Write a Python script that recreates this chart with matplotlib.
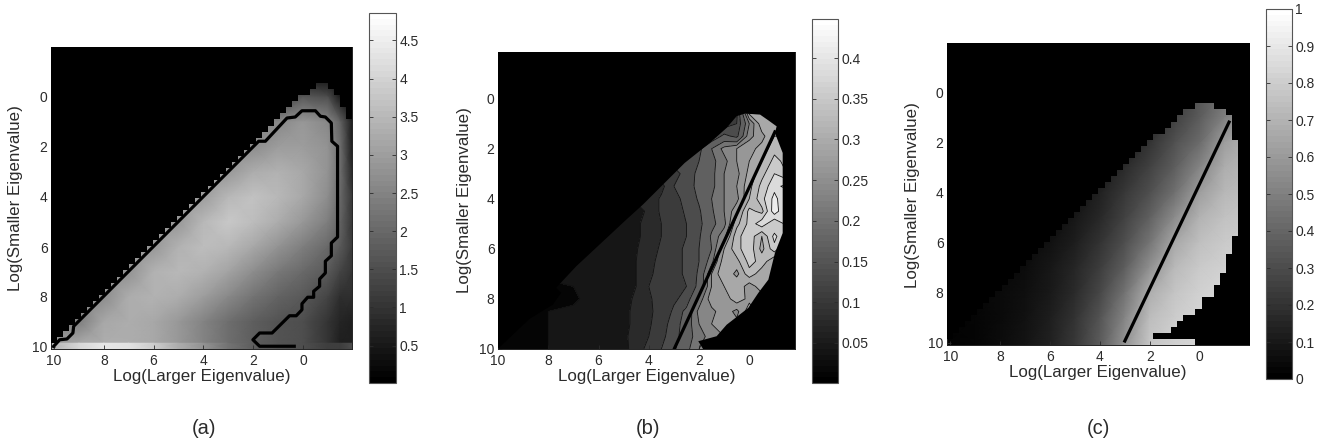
#!/usr/bin/env python
"""Three grey eigenvalue maps, (a) (b) (c), each with its own colour bar."""
import numpy as np
import matplotlib

matplotlib.use("Agg")
import matplotlib.pyplot as plt
from matplotlib.cm import ScalarMappable
from matplotlib.colors import Normalize
from matplotlib.patches import PathPatch
from matplotlib.path import Path

W, H = 1329, 443
GRID = 50
TEXT = "#2b2b2b"
TICKS = [10, 8, 6, 4, 2, 0]
XLABEL = "Log(Larger Eigenvalue)"
YLABEL = "Log(Smaller Eigenvalue)"

# --- panel (a): values read at these log positions
a_xs = [10.2, 9, 8, 7, 6, 5, 4, 3, 2, 1, 0, -1, -1.5, -2]
a_ys = [-2, -1, 0, 1, 2, 3, 4, 5, 6, 7, 8, 9, 9.85]
a_values = [
    [0, 0, 0, 0, 0, 0, 0, 0, 0, 0, 0, 0, 0, 0],
    [0, 0, 0, 0, 0, 0, 0, 0, 0, 0, 0, 0, 0, 0],
    [1.2, 1.2, 1.2, 1.2, 1.2, 1.2, 1.2, 1.2, 1.2, 1.2, 1.7, 1.5, 0.5, 0],
    [2.4, 2.4, 2.4, 2.4, 2.4, 2.4, 2.4, 2.4, 2.4, 2.6, 2.9, 2.6, 1.9, 0.5],
    [2.7, 2.7, 2.7, 2.7, 2.7, 2.7, 2.7, 2.7, 2.7, 3.0, 3.0, 2.8, 2.1, 0.5],
    [2.9, 2.9, 2.9, 2.9, 2.9, 2.9, 2.9, 2.9, 3.3, 3.4, 3.2, 2.8, 2.1, 0.7],
    [3.0, 3.0, 3.0, 3.0, 3.0, 3.0, 3.0, 3.5, 3.7, 3.5, 3.2, 2.7, 2.0, 1.0],
    [2.9, 2.9, 2.9, 2.9, 2.9, 2.9, 3.5, 3.8, 3.6, 3.3, 2.9, 2.4, 1.9, 1.0],
    [2.9, 2.9, 2.9, 2.9, 2.9, 3.4, 3.6, 3.5, 3.2, 2.8, 2.4, 2.0, 1.7, 1.1],
    [2.8, 2.8, 2.8, 2.8, 3.4, 3.5, 3.4, 3.1, 2.7, 2.3, 2.0, 1.7, 1.3, 1.0],
    [2.7, 2.7, 2.7, 3.3, 3.4, 3.3, 3.0, 2.6, 2.2, 1.9, 1.7, 1.3, 0.9, 0.9],
    [2.4, 2.4, 3.2, 3.3, 3.2, 2.9, 2.5, 2.1, 1.8, 1.6, 1.5, 1.0, 0.7, 0.6],
    [2.8, 3.2, 3.3, 3.3, 3.2, 2.9, 2.5, 2.1, 1.8, 1.6, 1.5, 1.0, 0.6, 0.6],
]
a_bottom = [3.4, 4.1, 4.4, 4.3, 3.9, 3.3, 2.8, 2.2, 1.8, 1.6, 1.5, 1.2, 1.2, 1.5]
# first and end cell of the visible stretch, rows 6 to 49 of the 50 x 50 grid
a_left = [44, 43, 41, 40, 39, 38, 37, 36, 35, 34, 33, 32, 31, 30, 29, 28, 27, 26, 25, 24, 23, 22,
          21, 20, 19, 18, 17, 16, 15, 14, 13, 12, 11, 10, 9, 8, 7, 6, 5, 4, 3, 2, 1, 0]
a_right = [46, 47, 48, 48, 49, 49] + [50] * 38
a_line_x = [10.01, 9.77, 9.48, 9.24, 9.21, 1.78, 1.51, 0.64, 0.31, 0.04, -0.50, -0.70, -0.90, -1.14,
            -1.16, -1.39, -1.39, -1.14, -1.14, -0.90, -0.90, -0.67, -0.67, -0.43, -0.43, -0.19,
            0.04, 0.04, 0.27, 0.54, 1.24, 1.74, 2.01, 1.74, 0.35]
a_line_y = [9.97, 9.71, 9.68, 9.44, 9.17, 1.77, 1.77, 0.84, 0.80, 0.55, 0.55, 0.77, 0.80, 1.04,
            1.77, 1.97, 5.60, 5.84, 6.35, 6.57, 7.04, 7.28, 7.57, 7.77, 8.01, 8.01,
            8.27, 8.51, 8.75, 8.75, 9.44, 9.44, 9.71, 9.97, 9.97]
a_ticks = [0.5, 1, 1.5, 2, 2.5, 3, 3.5, 4, 4.5]
a_ticklabels = ["0.5", "1", "1.5", "2", "2.5", "3", "3.5", "4", "4.5"]

# --- panel (b): values x 100, cells left of the edge repeat the edge value
b_xs = [10, 9, 8, 7, 6.5, 6, 5.5, 5, 4.5, 4, 3.5, 3, 2.5, 2, 1.5, 1, 0.5, 0, -0.5, -1, -1.5]
b_ys = [0.5, 1, 1.5, 2, 2.5, 3, 3.5, 4, 4.5, 5, 5.5, 6, 6.5, 7, 7.5, 8, 8.5, 9, 9.5, 10]
b_values = [
    [10, 10, 10, 10, 10, 10, 10, 10, 10, 10, 10, 10, 10, 10, 10, 10, 11, 30, 30, 28, 28],
    [10, 10, 10, 10, 10, 10, 10, 10, 10, 10, 10, 10, 10, 10, 10, 10, 12, 22, 30, 30, 30],
    [12, 12, 12, 12, 12, 12, 12, 12, 12, 12, 12, 12, 12, 12, 12, 16, 14, 24, 27, 31, 31],
    [14, 14, 14, 14, 14, 14, 14, 14, 14, 14, 14, 14, 14, 14, 19, 23, 25, 27, 29, 33, 33],
    [13, 13, 13, 13, 13, 13, 13, 13, 13, 13, 13, 13, 13, 15, 18, 21, 25, 28, 31, 35, 33],
    [11, 11, 11, 11, 11, 11, 11, 11, 11, 11, 11, 11, 13, 16, 18, 22, 24, 29, 33, 37, 34],
    [8, 8, 8, 8, 8, 8, 8, 8, 8, 8, 8, 12, 13.5, 16, 18, 22, 25, 30, 35, 39, 41],
    [7, 7, 7, 7, 7, 7, 7, 7, 7, 7, 9.5, 11.5, 12.5, 15.5, 19, 22, 24, 31, 36, 41, 37],
    [4, 4, 4, 4, 4, 4, 4, 4, 4, 7, 9.5, 10.5, 12.5, 14.5, 18.5, 22, 27, 35, 33, 42, 36],
    [4, 4, 4, 4, 4, 4, 4, 4, 5.5, 7, 9, 10.5, 12, 14, 18, 21, 30, 35, 39, 34, 38],
    [3, 3, 3, 3, 3, 3, 3, 4, 5.5, 7, 9, 10.5, 12, 14.5, 19.5, 24, 33, 36, 31, 38, 33],
    [3, 3, 3, 3, 3, 3, 3, 4, 5.8, 7.5, 9.5, 11, 12.5, 15, 19, 28, 33, 36, 30, 36, 29],
    [3, 3, 3, 3, 3, 3, 3, 4, 6, 8, 10, 11, 12.5, 15, 21, 30, 30, 35, 33, 28, 32],
    [3, 3, 3, 3, 3, 3, 3, 4, 6, 8.5, 10, 11, 12.5, 15.5, 25, 31, 27, 33, 29, 31, 26],
    [1, 1, 1, 2, 3, 3, 3, 4.5, 6, 9, 10, 11.5, 12, 16, 25, 28, 31, 26, 30, 26, 26],
    [1, 1, 2, 1, 3, 3, 3, 5, 6.5, 8.5, 10.5, 11.5, 13, 20, 27, 26, 30, 27, 26, 26, 26],
    [1, 1, 2, 3, 3, 3, 3, 5.5, 6.5, 8.5, 10, 12.5, 16, 23, 24, 27, 24, 30, 26, 26, 26],
    [1, 1, 2, 3, 3, 3, 3, 5.5, 6.5, 8.5, 11, 13, 17, 22, 25, 27, 26, 26, 26, 26, 26],
    [1, 2, 2, 3, 3, 3, 3, 5.5, 7, 9, 11.5, 13, 18, 20, 24, 25, 25, 25, 25, 25, 25],
    [1, 2, 2, 3, 3, 3, 3, 5, 7.5, 10, 12, 14.5, 18, 22, 24, 24, 24, 24, 24, 24, 24],
]
b_levels = [0, 2, 6, 9, 12, 15, 19, 22, 25, 28, 31, 34, 37, 40, 43]
b_edge_x = [0.17, -0.43, -0.76, -1.09, -1.02, -1.33, -1.33, -1.02, -0.76, -0.36, 0.04, 0.9, 1.3,
            2.03, 1.84, 10.01, 8.75, 7.82, 7.49, 7.69, 6.89, 4.89, 4.23, 3.3, 2.57, 1.57, 0.9, 0.5]
b_edge_y = [0.6, 0.64, 0.87, 1.11, 1.37, 2.17, 5.37, 6.17, 7.23, 7.76, 8.36, 9.03, 9.49,
            9.69, 10, 10, 8.8, 8.23, 7.76, 7.56, 6.7, 4.83, 4.23, 3.3, 2.57, 1.77, 1.17, 0.7]
b_line_x = [2.97, -1.02]
b_line_y = [9.96, 1.33]
b_ticks = [0.05, 0.1, 0.15, 0.2, 0.25, 0.3, 0.35, 0.4]
b_ticklabels = ["0.05", "0.1", "0.15", "0.2", "0.25", "0.3", "0.35", "0.4"]

# --- panel (c)
c_xs = [10.2, 9, 8, 7, 6, 5, 4, 3, 2, 1, 0, -1, -2]
c_ys = [0, 1, 2, 3, 4, 5, 6, 7, 8, 9, 10.1]
c_values = [
    [.10, .10, .10, .10, .10, .10, .10, .10, .10, .20, .33, .42, .50],
    [.12, .12, .12, .12, .12, .12, .12, .12, .15, .25, .36, .50, .60],
    [.08, .08, .08, .08, .08, .08, .08, .10, .20, .32, .42, .62, .70],
    [.06, .06, .06, .06, .06, .06, .10, .17, .26, .37, .52, .68, .72],
    [.05, .05, .05, .05, .05, .07, .13, .22, .31, .44, .62, .72, .74],
    [.04, .04, .04, .04, .05, .09, .16, .26, .38, .55, .70, .76, .78],
    [.03, .03, .03, .04, .07, .12, .20, .31, .46, .66, .75, .79, .80],
    [.02, .02, .03, .05, .09, .15, .24, .37, .57, .73, .79, .82, .83],
    [.01, .02, .04, .06, .10, .17, .28, .45, .68, .77, .82, .84, .85],
    [.01, .02, .04, .07, .12, .20, .33, .52, .74, .80, .83, .85, .86],
    [.01, .02, .05, .08, .13, .22, .36, .58, .78, .82, .84, .86, .86],
]
# first and end cell of the visible stretch, rows 10 to 49 of the 50 x 50 grid
c_left = [41, 39, 38, 37, 36, 34, 33, 32, 31, 30, 29, 28, 27, 26, 25, 24, 23, 22, 21, 20,
          19, 18, 17, 16, 15, 14, 13, 12, 11, 10, 9, 8, 7, 6, 5, 4, 3, 2, 1, 0]
c_right = [44, 46, 47, 47, 47, 47, 48, 48, 48, 48, 48, 48, 48, 48, 48, 48, 48, 48, 48, 48, 48, 48,
           47, 47, 47, 46, 46, 46, 45, 45, 44, 44, 42, 42, 41, 39, 38, 37, 34, 41]
c_line_x = [3.0, -1.18]
c_line_y = [9.93, 1.19]
c_ticks = [0, 0.1, 0.2, 0.3, 0.4, 0.5, 0.6, 0.7, 0.8, 0.9, 1]
c_ticklabels = ["0", "0.1", "0.2", "0.3", "0.4", "0.5", "0.6", "0.7", "0.8", "0.9", "1"]

plt.rcParams["font.family"] = ["Liberation Sans", "DejaVu Sans"]
cmap = plt.get_cmap("gray", 64)
smooth = plt.get_cmap("gray")
fig = plt.figure(figsize=(W / 100, H / 100), dpi=100, facecolor="white")


def box(left, top, right, bottom):
    return fig.add_axes([left / W, 1 - bottom / H, (right - left) / W, (bottom - top) / H])


def px(x, y):
    return x / W, 1 - y / H


def heat_axes(rect, xlim, ylim, xlab, ylab, letter):
    ax = box(*rect)
    ax.set_facecolor("black")
    ax.set_xlim(*xlim)
    ax.set_ylim(*ylim)
    ax.set_xticks(TICKS)
    ax.set_yticks(TICKS)
    ax.tick_params(direction="in", length=3, width=0.6, labelsize=10, colors=TEXT, pad=3.5)
    ax.tick_params(axis="y", pad=2.5)
    for s in ax.spines.values():
        s.set_linewidth(0.7)
        s.set_color("#222222")
    ax.set_xlabel(XLABEL, fontsize=12.2, color=TEXT, ha="center", va="center")
    ax.xaxis.set_label_coords(*px(*xlab), transform=fig.transFigure)
    ax.set_ylabel(YLABEL, fontsize=12.2, color=TEXT, ha="center", va="center")
    ax.yaxis.set_label_coords(*px(*ylab), transform=fig.transFigure)
    fig.text(*px(letter, 428), f"({'abc'[len(fig.axes) // 2]})", fontsize=14.5, color=TEXT,
             ha="center", va="center")
    return ax


def colour_bar(rect, vmin, vmax, ticks, labels):
    cax = box(*rect)
    bar = fig.colorbar(ScalarMappable(Normalize(vmin, vmax), cmap), cax=cax)
    bar.set_ticks(ticks, labels=labels)
    bar.minorticks_off()
    cax.tick_params(direction="in", length=3, width=0.6, left=True, right=True, labelsize=10,
                    colors=TEXT, pad=2.5)
    bar.outline.set_linewidth(0.8)
    bar.outline.set_edgecolor("#555555")


def cell_mask(ax, xlim, ylim, left, right):
    rows = np.ones((GRID, GRID, 4))
    rows[..., :3] = 0
    first = GRID - len(left)
    for i, (l, r) in enumerate(zip(left, right)):
        rows[first + i, l:r, 3] = 0
    ax.imshow(rows, extent=[xlim[0], xlim[1], ylim[0], ylim[1]], origin="upper", aspect="auto",
              interpolation="nearest", zorder=3)
    ax.set_xlim(*xlim)
    ax.set_ylim(*ylim)


# (a)
lim_x, lim_y = (10.12, -1.97), (10.08, -2.0)
ax = heat_axes((51, 47, 352, 349), lim_x, lim_y, (202, 376), (16, 198), 204)
norm_a = Normalize(0.01, 4.86)
ax.pcolormesh(a_xs, a_ys, np.array(a_values), shading="gouraud", cmap=smooth, norm=norm_a)
ax.pcolormesh(a_xs, [9.85, 10.1], np.array([a_bottom, a_bottom]), shading="gouraud", cmap=smooth,
              norm=norm_a)
cell_mask(ax, lim_x, lim_y, a_left, a_right)
ax.plot(a_line_x, a_line_y, color="black", lw=2.3, zorder=4, solid_joinstyle="round")
colour_bar((369, 13, 396, 383), 0.01, 4.86, a_ticks, a_ticklabels)

# (b)
lim_x, lim_y = (10.0, -1.82), (10.0, -1.86)
ax = heat_axes((498, 52, 795, 349), lim_x, lim_y, (647, 376), (464, 200), 648)
norm_b = Normalize(0.0008, 0.448)
b_grid = np.array(b_values) / 100
b_lev = np.array(b_levels) / 100
ax.contourf(b_xs, b_ys, b_grid, levels=b_lev, cmap=smooth, norm=norm_b, extend="max", zorder=1)
ax.contour(b_xs, b_ys, b_grid, levels=b_lev[1:], colors="#111111", linewidths=0.6, zorder=2)
outer = [(lim_x[0], lim_y[0]), (lim_x[1], lim_y[0]), (lim_x[1], lim_y[1]), (lim_x[0], lim_y[1]),
         (lim_x[0], lim_y[0])]
inner = list(zip(b_edge_x, b_edge_y)) + [(b_edge_x[0], b_edge_y[0])]
codes = [Path.MOVETO] + [Path.LINETO] * (len(outer) - 1) + [Path.MOVETO] + [Path.LINETO] * (len(inner) - 1)
ax.add_patch(PathPatch(Path(outer + inner, codes), facecolor="black", edgecolor="none", zorder=3))
ax.plot(b_line_x, b_line_y, color="black", lw=2.3, zorder=4)
colour_bar((812, 19, 838, 383), 0.0008, 0.448, b_ticks, b_ticklabels)

# (c)
lim_x, lim_y = (10.13, -1.98), (10.09, -1.97)
ax = heat_axes((947, 43, 1249, 345), lim_x, lim_y, (1098, 372), (912, 195), 1098)
ax.pcolormesh(c_xs, c_ys, np.array(c_values), shading="gouraud", cmap=smooth, norm=Normalize(0, 1))
cell_mask(ax, lim_x, lim_y, c_left, c_right)
ax.plot(c_line_x, c_line_y, color="black", lw=2.3, zorder=4)
colour_bar((1266, 9, 1292, 379), 0, 1, c_ticks, c_ticklabels)

fig.savefig("out.png", dpi=100, facecolor="white")
